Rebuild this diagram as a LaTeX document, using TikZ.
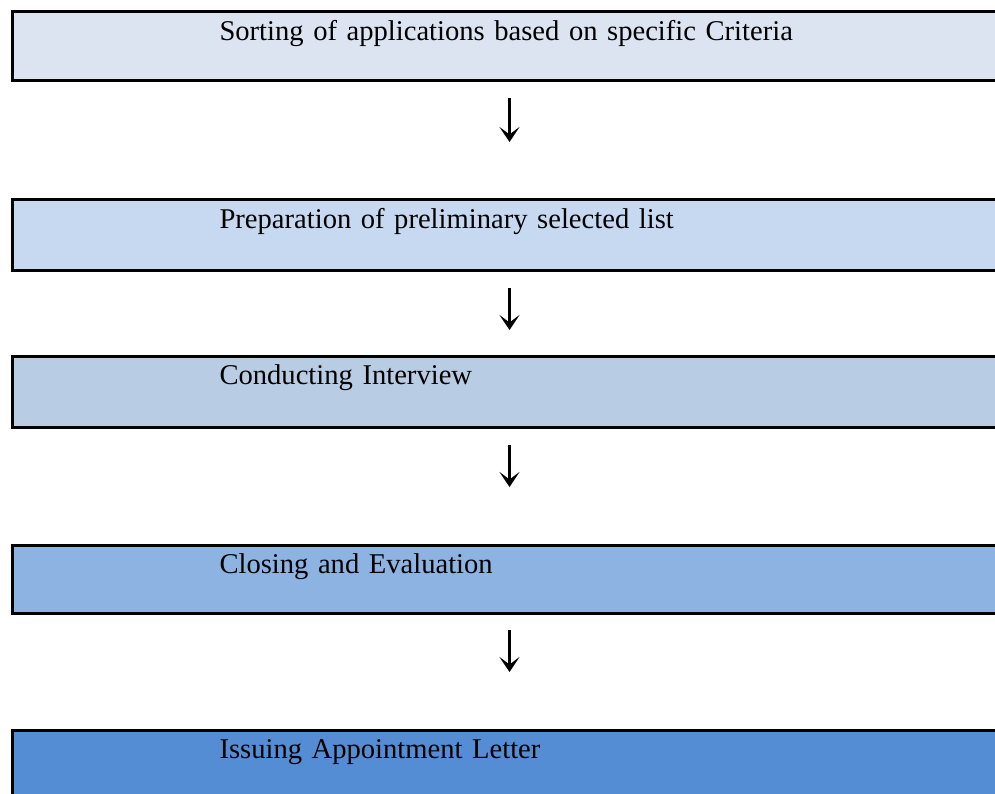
\documentclass[tikz,border=0pt]{standalone}
\usepackage{fontspec}
\setmainfont{Liberation Serif}
\usetikzlibrary{arrows.meta}

\begin{document}
\begin{tikzpicture}[x=1pt, y=-1pt,
  stepBox/.style={draw=black, line width=3pt, rectangle, anchor=north west,
    inner xsep=207.5pt, inner ysep=0pt, text width=580pt, align=left,
    text height=28.8pt, text depth=#1, font=\fontsize{28.6}{34}\selectfont},
  flowArrow/.style={line width=2.8pt, -{Stealth[length=15pt,width=20pt,inset=7.5pt]}}
]

% Colours of the steps
\definecolor{colSort}{HTML}{DCE4F1}
\definecolor{colPrep}{HTML}{C6D9F1}
\definecolor{colInt}{HTML}{B8CCE4}
\definecolor{colEval}{HTML}{8DB3E2}
\definecolor{colIssue}{HTML}{548DD4}

% Page frame (boxes run off the right and bottom edges)
\useasboundingbox (0,0) rectangle (995,794);
\clip (0,0) rectangle (995,794);

% Steps
\node[stepBox=40.2pt, fill=colSort] (sort) at (10.5,10.5) {Sorting of applications based on specific Criteria};
\node[stepBox=41.2pt, fill=colPrep] (prep) at (10.5,198.5) {Preparation of preliminary selected list};
\node[stepBox=42.2pt, fill=colInt] (interview) at (10.5,354.5) {Conducting Interview};
\node[stepBox=39.2pt, fill=colEval] (eval) at (10.5,543.5) {Closing and Evaluation};
\node[stepBox=41.2pt, fill=colIssue] (issue) at (10.5,728.5) {Issuing Appointment Letter};

% Arrows
\draw[flowArrow, shorten <=15.5pt, shorten >=56.5pt] (sort.south) -- (prep.north);
\draw[flowArrow, shorten <=16.5pt, shorten >=24.5pt] (prep.south) -- (interview.north);
\draw[flowArrow, shorten <=16.5pt, shorten >=56.5pt] (interview.south) -- (eval.north);
\draw[flowArrow, shorten <=15.5pt, shorten >=56.5pt] (eval.south) -- (issue.north);

\end{tikzpicture}
\end{document}
